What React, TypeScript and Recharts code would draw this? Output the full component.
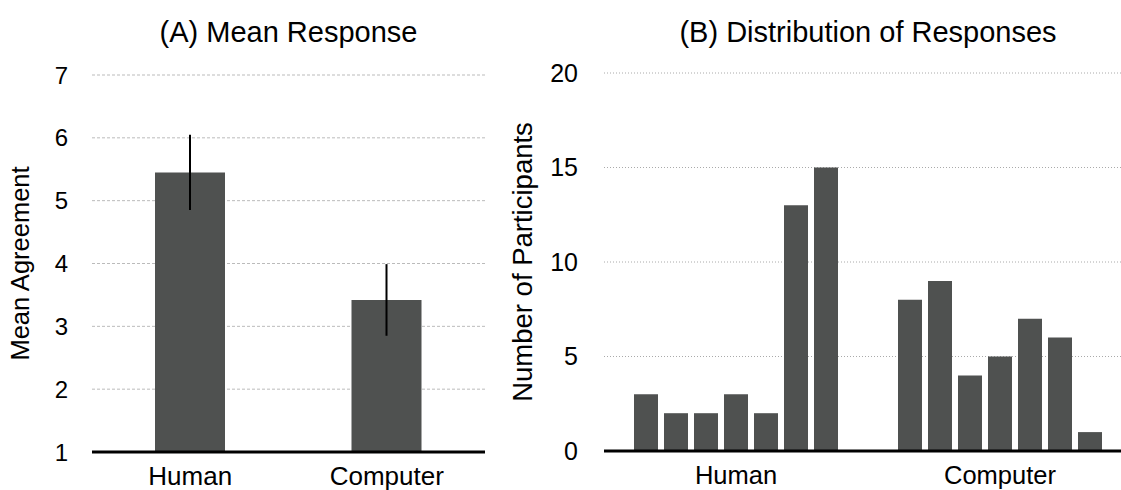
import { BarChart, Bar, XAxis, YAxis, CartesianGrid, ErrorBar, Label } from "recharts";

// Panel A: mean agreement per agent type
const groups = ["Human", "Computer"];
const meanAgreement = [5.45, 3.42];
const meanError = [0.6, 0.57];
const meanTicks = [1, 2, 3, 4, 5, 6, 7];

// Panel B: response counts per Likert level (1..7)
const responseLevels = [1, 2, 3, 4, 5, 6, 7];
const humanCounts = [3, 2, 2, 3, 2, 13, 15];
const computerCounts = [8, 9, 4, 5, 7, 6, 1];
const countTicks = [0, 5, 10, 15, 20];

const BAR_COLOR = "#4f5150";
const FONT = "'Liberation Sans', Arial, Helvetica, sans-serif";

const meanData = groups.map((g, i) => ({ name: g, mean: meanAgreement[i], err: meanError[i] }));

const countRows = [humanCounts, computerCounts];
const distData = groups.map((g, i) => {
  const row: Record<string, any> = { name: g };
  responseLevels.forEach((lvl, j) => {
    row[`r${lvl}`] = countRows[i][j];
  });
  return row;
});

const titleStyle = (left: number, width: number): React.CSSProperties => ({
  position: "absolute",
  left,
  width,
  top: 18,
  height: 29,
  lineHeight: "29px",
  fontSize: 29,
  fontFamily: FONT,
  textAlign: "center",
  color: "#000",
  whiteSpace: "nowrap",
});

export default function App() {
  return (
    <div
      style={{
        position: "absolute",
        left: 0,
        top: 0,
        width: 1121,
        height: 490,
        overflow: "hidden",
        background: "#fff",
        fontFamily: FONT,
      }}
    >
      <div style={titleStyle(92, 393)}>(A) Mean Response</div>
      <div style={titleStyle(604, 528)}>(B) Distribution of Responses</div>

      <div style={{ position: "absolute", left: 0, top: 0 }}>
        <BarChart
          width={500}
          height={490}
          data={meanData}
          margin={{ top: 75, right: 15, bottom: 0, left: 0 }}
        >
          <CartesianGrid vertical={false} stroke="#bbb" strokeDasharray="3 2" />
          <XAxis
            dataKey="name"
            height={38}
            tickLine={false}
            tickSize={0}
            tickMargin={15}
            axisLine={{ stroke: "#000", strokeWidth: 3 }}
            tick={{ fontSize: 26, fill: "#000", fontFamily: FONT }}
          />
          <YAxis
            type="number"
            domain={[1, 7]}
            ticks={meanTicks}
            interval={0}
            width={92}
            axisLine={false}
            tickLine={false}
            tickSize={0}
            tickMargin={24}
            tick={{ fontSize: 24, fill: "#000", fontFamily: FONT }}
          >
            <Label
              value="Mean Agreement"
              angle={-90}
              position="insideLeft"
              offset={20}
              style={{ textAnchor: "middle", fontSize: 25.5, fill: "#000", fontFamily: FONT }}
            />
          </YAxis>
          <Bar dataKey="mean" fill={BAR_COLOR} barSize={70} isAnimationActive={false}>
            <ErrorBar dataKey="err" width={0} stroke="#000" strokeWidth={2} />
          </Bar>
        </BarChart>
      </div>

      <div style={{ position: "absolute", left: 500, top: 0 }}>
        <BarChart
          width={640}
          height={490}
          data={distData}
          barGap={6}
          margin={{ top: 73, right: 8, bottom: 0, left: 0 }}
        >
          <CartesianGrid vertical={false} stroke="#aaa" strokeDasharray="1 2" />
          <XAxis
            dataKey="name"
            height={39}
            tickLine={false}
            tickSize={0}
            tickMargin={15}
            axisLine={{ stroke: "#000", strokeWidth: 3 }}
            tick={{ fontSize: 25.5, fill: "#000", fontFamily: FONT }}
          />
          <YAxis
            type="number"
            domain={[0, 20]}
            ticks={countTicks}
            interval={0}
            width={104}
            axisLine={false}
            tickLine={false}
            tickSize={0}
            tickMargin={26}
            tick={{ fontSize: 25, fill: "#000", fontFamily: FONT }}
          >
            <Label
              value="Number of Participants"
              angle={-90}
              position="insideLeft"
              offset={22}
              style={{ textAnchor: "middle", fontSize: 27.5, fill: "#000", fontFamily: FONT }}
            />
          </YAxis>
          {responseLevels.map((lvl) => (
            <Bar
              key={lvl}
              dataKey={`r${lvl}`}
              fill={BAR_COLOR}
              barSize={24}
              isAnimationActive={false}
            />
          ))}
        </BarChart>
      </div>
    </div>
  );
}
